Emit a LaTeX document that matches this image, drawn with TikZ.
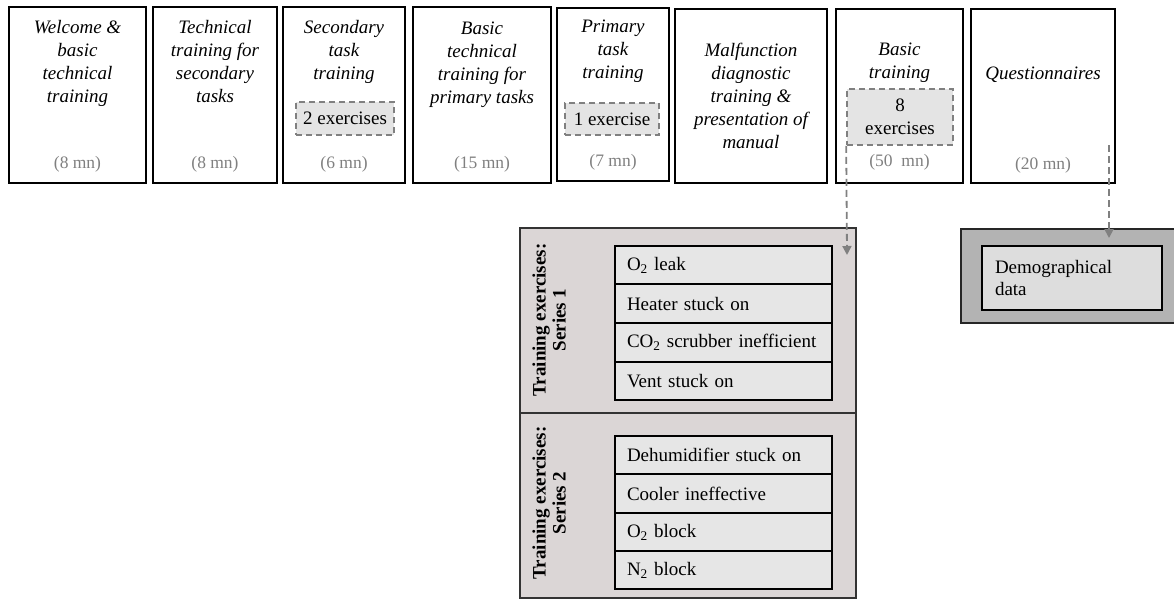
\documentclass[tikz,border=0pt]{standalone}
\usepackage{fontspec}
\setmainfont{Liberation Serif}
\usetikzlibrary{arrows.meta}
\definecolor{dgray}{RGB}{128,128,128}
\definecolor{exfill}{RGB}{228,228,228}
\definecolor{serfill}{RGB}{219,214,214}
\definecolor{rowfill}{RGB}{230,230,230}
\definecolor{demoout}{RGB}{179,179,179}
\definecolor{demoin}{RGB}{221,221,221}
\begin{document}
\begin{tikzpicture}[x=1pt,y=-1pt,
 topbox/.style={draw=black, line width=1.8pt, rectangle, inner sep=0pt},
 title/.style={font=\fontsize{19}{23}\selectfont\itshape, align=center, inner sep=0pt, anchor=north},
 dur/.style={font=\fontsize{17.5}{21}\selectfont, text=dgray, inner sep=0pt},
 exbox/.style={draw=dgray, dash pattern=on 6pt off 4pt, line width=1.6pt, fill=exfill, inner sep=0pt, font=\fontsize{19}{23}\selectfont, align=center},
 serbox/.style={draw=black!80, line width=1.4pt, fill=serfill, inner sep=0pt},
 row/.style={draw=black, line width=1.6pt, fill=rowfill, inner xsep=12pt, inner ysep=0pt, text width=193pt, minimum height=38.5pt, align=left, font=\fontsize{19}{23}\selectfont},
 serlabel/.style={font=\fontsize{19}{20}\selectfont\bfseries, rotate=90, align=center, inner sep=0pt},
 conn/.style={draw=dgray, dash pattern=on 7pt off 4pt, line width=1.8pt, -{Triangle[length=9pt,width=9pt]}}
]
\useasboundingbox (0,0) rectangle (1174,600);
\fill[white] (0,0) rectangle (1174,600);

% top boxes
\node[topbox, minimum width=137pt, minimum height=176pt] (b1) at (77.5,95) {};
\node[topbox, minimum width=124pt, minimum height=176pt] (b2) at (215,95) {};
\node[topbox, minimum width=122pt, minimum height=176pt] (b3) at (344,95) {};
\node[topbox, minimum width=138pt, minimum height=176pt] (b4) at (482,95) {};
\node[topbox, minimum width=112pt, minimum height=173pt] (b5) at (613,94.5) {};
\node[topbox, minimum width=152pt, minimum height=174pt] (b6) at (751,96) {};
\node[topbox, minimum width=127pt, minimum height=174pt] (b7) at (899.5,96) {};
\node[topbox, minimum width=144pt, minimum height=174pt] (b8) at (1043,96) {};

% titles
\node[title] (t1) at (77.5,20) {Welcome \&\\basic\\technical\\training};
\node[title] (t2) at (215,20) {Technical\\training for\\secondary\\tasks};
\node[title] (t3) at (344,20) {Secondary\\task\\training};
\node[title] (t4) at (482,22) {Basic\\technical\\training for\\primary tasks};
\node[title] (t5) at (613,20) {Primary\\task\\training};
\node[title] (t6) at (751,43) {Malfunction\\diagnostic\\training \&\\presentation of\\manual};
\node[title] (t7) at (899.5,43) {Basic\\training};
\node[title] (t8) at (1043,67) {Questionnaires};

% durations
\node[dur] (d1) at (77.5,164) {(8 mn)};
\node[dur] (d2) at (215,164) {(8 mn)};
\node[dur] (d3) at (344,164) {(6 mn)};
\node[dur] (d4) at (482,164) {(15 mn)};
\node[dur] (d5) at (613,162) {(7 mn)};
\node[dur] (d7) at (899.5,162) {(50\enspace mn)};
\node[dur] (d8) at (1043,165) {(20 mn)};

% exercise boxes
\node[exbox, minimum width=98pt, minimum height=33pt] (e3) at (345,118.5) {2 exercises};
\node[exbox, minimum width=94pt, minimum height=32pt] (e5) at (612,119) {1 exercise};
\node[exbox, minimum width=106pt, minimum height=56pt] (e7) at (900,117) {\raisebox{-3pt}{8}\\\raisebox{-3pt}{exercises}};

% series boxes
\node[serbox, minimum width=336pt, minimum height=185pt] (s1) at (688,320.5) {};
\node[serbox, minimum width=336pt, minimum height=185pt] (s2) at (688,505.5) {};
\node[serlabel] (l1) at (549,320) {Training exercises:\\Series 1};
\node[serlabel] (l2) at (549,503) {Training exercises:\\Series 2};

\node[row] (r1) at (723.5,265.5) {O\textsubscript{2} leak};
\node[row] (r2) at (723.5,303.5) {Heater stuck on};
\node[row] (r3) at (723.5,342.5) {CO\textsubscript{2} scrubber inefficient};
\node[row] (r4) at (723.5,381) {Vent stuck on};
\node[row] (r5) at (723.5,455) {Dehumidifier stuck on};
\node[row] (r6) at (723.5,493.5) {Cooler ineffective};
\node[row] (r7) at (723.5,532) {O\textsubscript{2} block};
\node[row] (r8) at (723.5,570) {N\textsubscript{2} block};

% demographical
\node[draw=black!85, line width=1.5pt, fill=demoout, minimum width=215pt, minimum height=94pt, inner sep=0pt] (dout) at (1068.5,276) {};
\node[draw=black, line width=1.6pt, fill=demoin, minimum width=180pt, minimum height=64pt, inner xsep=13pt, inner ysep=0pt, text width=154pt, align=left, font=\fontsize{19}{22}\selectfont] (din) at (1072,278) {Demographical\\data};

% connectors
\coordinate (a1) at (847,255);
\draw[conn] (e7.south west) -- (a1);
\coordinate (q0) at (1109,145);
\coordinate (a2) at (1109,238);
\draw[conn] (q0) -- (a2);
\end{tikzpicture}
\end{document}
